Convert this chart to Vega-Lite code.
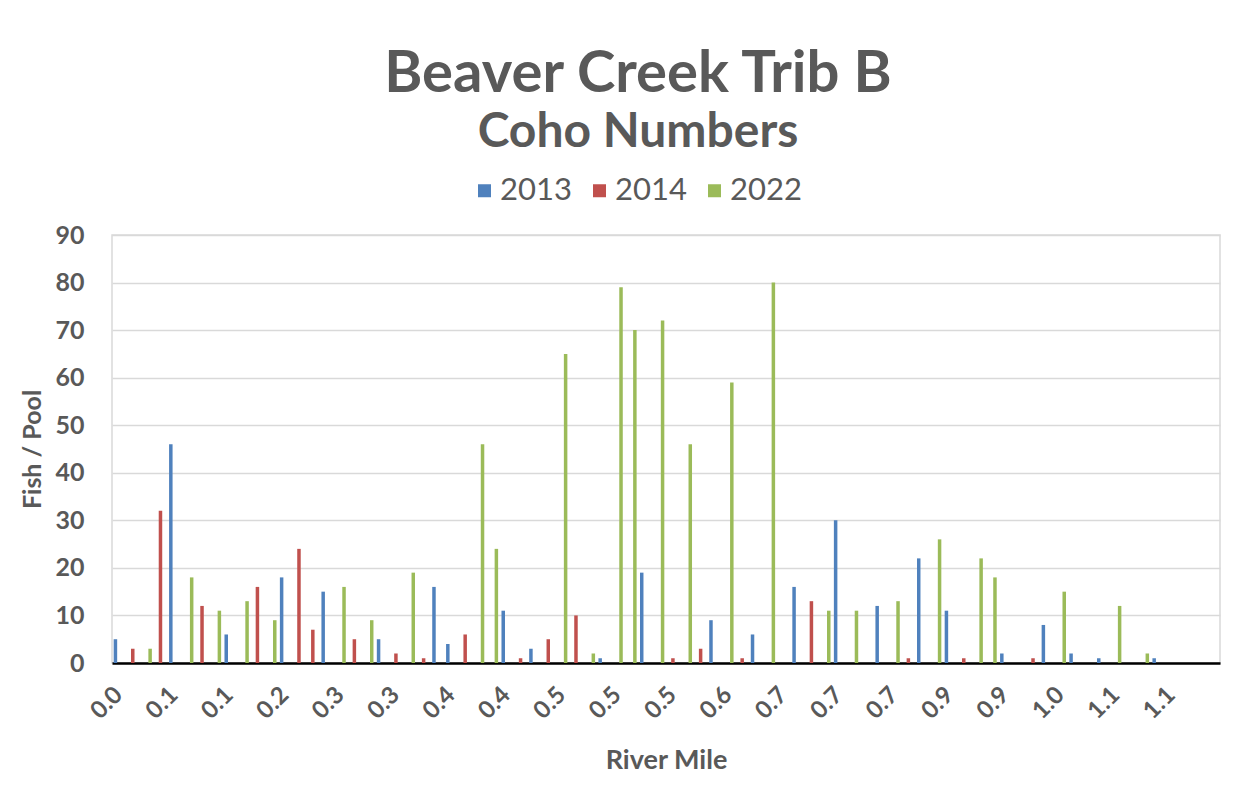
{
  "$schema": "https://vega.github.io/schema/vega-lite/v6.json",
  "width": 1108,
  "height": 428,
  "autosize": {"type": "none"},
  "padding": {"left": 112, "top": 235, "right": 28, "bottom": 142},
  "background": "white",
  "title": {
    "text": "Beaver Creek Trib B",
    "subtitle": "Coho Numbers",
    "anchor": "middle",
    "dx": -28,
    "offset": 18,
    "font": "Lato",
    "fontSize": 58,
    "fontWeight": "bold",
    "color": "#595959",
    "subtitleFont": "Lato",
    "subtitleFontSize": 48,
    "subtitleFontWeight": "bold",
    "subtitleColor": "#595959",
    "subtitlePadding": 5
  },
  "data": {
    "values": [
      {"site": "01|0.0", "year": "2013", "fish": 5},
      {"site": "02|0.0", "year": "2014", "fish": 3},
      {"site": "03|0.0", "year": "2022", "fish": 3},
      {"site": "04|0.1", "year": "2014", "fish": 32},
      {"site": "05|0.1", "year": "2013", "fish": 46},
      {"site": "06|0.1", "year": "2022", "fish": 18},
      {"site": "07|0.1", "year": "2014", "fish": 12},
      {"site": "08|0.1", "year": "2022", "fish": 11},
      {"site": "09|0.1", "year": "2013", "fish": 6},
      {"site": "10|0.1", "year": "2022", "fish": 13},
      {"site": "11|0.2", "year": "2014", "fish": 16},
      {"site": "12|0.2", "year": "2022", "fish": 9},
      {"site": "13|0.2", "year": "2013", "fish": 18},
      {"site": "14|0.2", "year": "2014", "fish": 24},
      {"site": "15|0.2", "year": "2014", "fish": 7},
      {"site": "16|0.3", "year": "2013", "fish": 15},
      {"site": "17|0.3", "year": "2022", "fish": 16},
      {"site": "18|0.3", "year": "2014", "fish": 5},
      {"site": "19|0.3", "year": "2022", "fish": 9},
      {"site": "20|0.3", "year": "2013", "fish": 5},
      {"site": "21|0.3", "year": "2014", "fish": 2},
      {"site": "22|0.3", "year": "2022", "fish": 19},
      {"site": "23|0.4", "year": "2014", "fish": 1},
      {"site": "24|0.4", "year": "2013", "fish": 16},
      {"site": "25|0.4", "year": "2013", "fish": 4},
      {"site": "26|0.4", "year": "2014", "fish": 6},
      {"site": "27|0.4", "year": "2022", "fish": 46},
      {"site": "28|0.4", "year": "2022", "fish": 24},
      {"site": "29|0.4", "year": "2013", "fish": 11},
      {"site": "30|0.4", "year": "2014", "fish": 1},
      {"site": "31|0.5", "year": "2013", "fish": 3},
      {"site": "32|0.5", "year": "2014", "fish": 5},
      {"site": "33|0.5", "year": "2022", "fish": 65},
      {"site": "34|0.5", "year": "2014", "fish": 10},
      {"site": "35|0.5", "year": "2022", "fish": 2},
      {"site": "36|0.5", "year": "2013", "fish": 1},
      {"site": "37|0.5", "year": "2022", "fish": 79},
      {"site": "38|0.5", "year": "2022", "fish": 70},
      {"site": "39|0.5", "year": "2013", "fish": 19},
      {"site": "40|0.5", "year": "2022", "fish": 72},
      {"site": "41|0.5", "year": "2014", "fish": 1},
      {"site": "42|0.5", "year": "2022", "fish": 46},
      {"site": "43|0.6", "year": "2014", "fish": 3},
      {"site": "44|0.6", "year": "2013", "fish": 9},
      {"site": "45|0.6", "year": "2022", "fish": 59},
      {"site": "46|0.6", "year": "2014", "fish": 1},
      {"site": "47|0.6", "year": "2013", "fish": 6},
      {"site": "48|0.7", "year": "2022", "fish": 80},
      {"site": "49|0.7", "year": "2013", "fish": 0},
      {"site": "50|0.7", "year": "2013", "fish": 16},
      {"site": "51|0.7", "year": "2014", "fish": 13},
      {"site": "52|0.7", "year": "2022", "fish": 11},
      {"site": "53|0.7", "year": "2013", "fish": 30},
      {"site": "54|0.7", "year": "2022", "fish": 11},
      {"site": "55|0.7", "year": "2013", "fish": 0},
      {"site": "56|0.7", "year": "2013", "fish": 12},
      {"site": "57|0.7", "year": "2022", "fish": 13},
      {"site": "58|0.8", "year": "2014", "fish": 1},
      {"site": "59|0.8", "year": "2013", "fish": 22},
      {"site": "60|0.8", "year": "2022", "fish": 26},
      {"site": "61|0.9", "year": "2013", "fish": 11},
      {"site": "62|0.9", "year": "2014", "fish": 1},
      {"site": "63|0.9", "year": "2022", "fish": 22},
      {"site": "64|0.9", "year": "2022", "fish": 18},
      {"site": "65|0.9", "year": "2013", "fish": 2},
      {"site": "66|0.9", "year": "2013", "fish": 0},
      {"site": "67|1.0", "year": "2014", "fish": 1},
      {"site": "68|1.0", "year": "2013", "fish": 8},
      {"site": "69|1.0", "year": "2022", "fish": 15},
      {"site": "70|1.0", "year": "2013", "fish": 2},
      {"site": "71|1.0", "year": "2013", "fish": 0},
      {"site": "72|1.1", "year": "2013", "fish": 1},
      {"site": "73|1.1", "year": "2022", "fish": 12},
      {"site": "74|1.1", "year": "2013", "fish": 0},
      {"site": "75|1.1", "year": "2022", "fish": 2},
      {"site": "76|1.1", "year": "2013", "fish": 1},
      {"site": "77|1.1", "year": "2013", "fish": 0},
      {"site": "78|1.1", "year": "2013", "fish": 0},
      {"site": "79|1.2", "year": "2013", "fish": 0},
      {"site": "80|1.2", "year": "2013", "fish": 0}
    ]
  },
  "mark": {"type": "bar"},
  "encoding": {
    "x": {
      "field": "site",
      "type": "ordinal",
      "sort": null,
      "scale": {"paddingInner": 0.242, "paddingOuter": 0.121},
      "axis": {
        "title": "River Mile",
        "values": ["01|0.0", "05|0.1", "09|0.1", "13|0.2", "17|0.3", "21|0.3", "25|0.4", "29|0.4", "33|0.5", "37|0.5", "41|0.5", "45|0.6", "49|0.7", "53|0.7", "57|0.7", "61|0.9", "65|0.9", "69|1.0", "73|1.1", "77|1.1"],
        "labelExpr": "split(datum.label, '|')[1]",
        "labelAngle": -45,
        "labelAlign": "right",
        "labelBaseline": "middle",
        "labelFont": "Lato",
        "labelFontSize": 24,
        "labelFontWeight": "bold",
        "labelColor": "#595959",
        "labelPadding": 28,
        "ticks": false,
        "grid": false,
        "domainColor": "#000000",
        "domainWidth": 2.5,
        "titleFont": "Lato",
        "titleFontSize": 27,
        "titleFontWeight": "bold",
        "titleColor": "#595959",
        "titlePadding": 24
      }
    },
    "xOffset": {"field": "year", "type": "nominal"},
    "y": {
      "field": "fish",
      "type": "quantitative",
      "scale": {"domain": [0, 90]},
      "axis": {
        "title": "Fish / Pool",
        "values": [0, 10, 20, 30, 40, 50, 60, 70, 80, 90],
        "grid": true,
        "gridColor": "#d9d9d9",
        "gridWidth": 1.5,
        "domain": false,
        "ticks": false,
        "labelFont": "Lato",
        "labelFontSize": 25,
        "labelFontWeight": "bold",
        "labelColor": "#595959",
        "labelPadding": 28,
        "titleFont": "Lato",
        "titleFontSize": 25,
        "titleFontWeight": "bold",
        "titleColor": "#595959",
        "titlePadding": 9
      }
    },
    "color": {
      "field": "year",
      "type": "nominal",
      "scale": {"domain": ["2013", "2014", "2022"], "range": ["#4F81BD", "#C0504D", "#9BBB59"]},
      "legend": {
        "title": null,
        "orient": "none",
        "direction": "horizontal",
        "legendX": 357,
        "legendY": -60,
        "symbolType": "square",
        "symbolSize": 169,
        "symbolStrokeWidth": 0,
        "labelFont": "Lato",
        "labelFontSize": 31,
        "labelColor": "#595959",
        "labelOffset": 0,
        "columnPadding": 12
      }
    }
  },
  "config": {"view": {"stroke": "#d9d9d9", "strokeWidth": 1.5}}
}
